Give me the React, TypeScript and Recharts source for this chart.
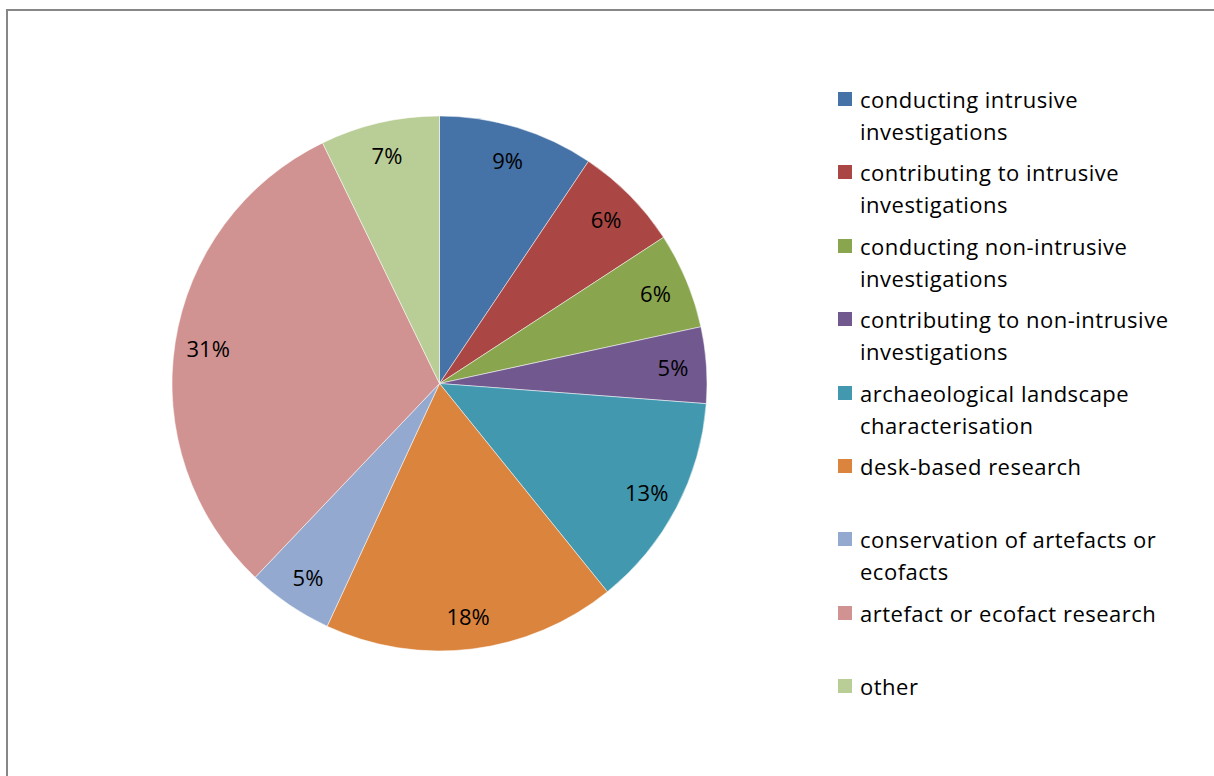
import React from 'react';
import { PieChart, Pie, Cell, Legend } from 'recharts';

// Shares of activity types, in percent
const categories = [
  'conducting intrusive\ninvestigations',
  'contributing to intrusive\ninvestigations',
  'conducting non-intrusive\ninvestigations',
  'contributing to non-intrusive\ninvestigations',
  'archaeological landscape\ncharacterisation',
  'desk-based research',
  'conservation of artefacts or\necofacts',
  'artefact or ecofact research',
  'other',
];
const shares = [9.4, 6.4, 5.8, 4.6, 13.0, 17.7, 5.2, 30.7, 7.2];
const sliceColors = [
  '#4572A7', '#AA4643', '#89A54E', '#71588F', '#4198AF',
  '#DB843D', '#93A9CF', '#D19392', '#B9CD96',
];

const FONT = '"Open Sans", "Noto Sans", sans-serif';
const RAD = Math.PI / 180;

const data = categories.map((name, i) => ({ name, value: shares[i] }));

const renderLabel = (props: any) => {
  const { cx, cy, midAngle, outerRadius, percent } = props;
  const r = outerRadius * 0.875;
  const x = cx + r * Math.cos(-midAngle * RAD);
  const y = cy + r * Math.sin(-midAngle * RAD);
  return (
    <text
      x={x}
      y={y}
      fill="#000"
      textAnchor="middle"
      dominantBaseline="central"
      style={{ fontFamily: FONT, fontSize: 22 }}
    >
      {`${Math.round(percent * 100)}%`}
    </text>
  );
};

const renderLegend = () => (
  <div style={{ fontFamily: FONT, fontSize: 22, letterSpacing: 0.5, color: '#000' }}>
    {data.map((d, i) => (
      <div key={d.name} style={{ display: 'flex', height: 73.4, alignItems: 'flex-start' }}>
        <div
          style={{
            width: 14,
            height: 14,
            marginTop: 9,
            marginRight: 8,
            background: sliceColors[i],
            flexShrink: 0,
          }}
        />
        <div style={{ whiteSpace: 'pre-line', lineHeight: '32px' }}>{d.name}</div>
      </div>
    ))}
  </div>
);

export default function App() {
  return (
    <div
      style={{
        position: 'absolute',
        left: 0,
        top: 0,
        width: 1214,
        height: 776,
        overflow: 'hidden',
        background: '#fff',
      }}
    >
      <div
        style={{
          position: 'absolute',
          left: 6,
          top: 9,
          width: 1400,
          height: 900,
          borderTop: '2px solid #878787',
          borderLeft: '2px solid #878787',
        }}
      />
      <div style={{ position: 'absolute', left: 0, top: 0 }}>
        <PieChart width={1214} height={776} margin={{ top: 0, right: 0, bottom: 0, left: 0 }}>
          <Pie
            data={data}
            dataKey="value"
            nameKey="name"
            cx={439.5}
            cy={383.5}
            outerRadius={267.5}
            startAngle={90}
            endAngle={-270}
            stroke="#fff"
            strokeWidth={0.5}
            label={renderLabel}
            labelLine={false}
            isAnimationActive={false}
          >
            {data.map((d, i) => (
              <Cell key={d.name} fill={sliceColors[i]} />
            ))}
          </Pie>
          <Legend
            content={renderLegend}
            wrapperStyle={{ position: 'absolute', left: 838, top: 83, width: 376 }}
          />
        </PieChart>
      </div>
    </div>
  );
}
